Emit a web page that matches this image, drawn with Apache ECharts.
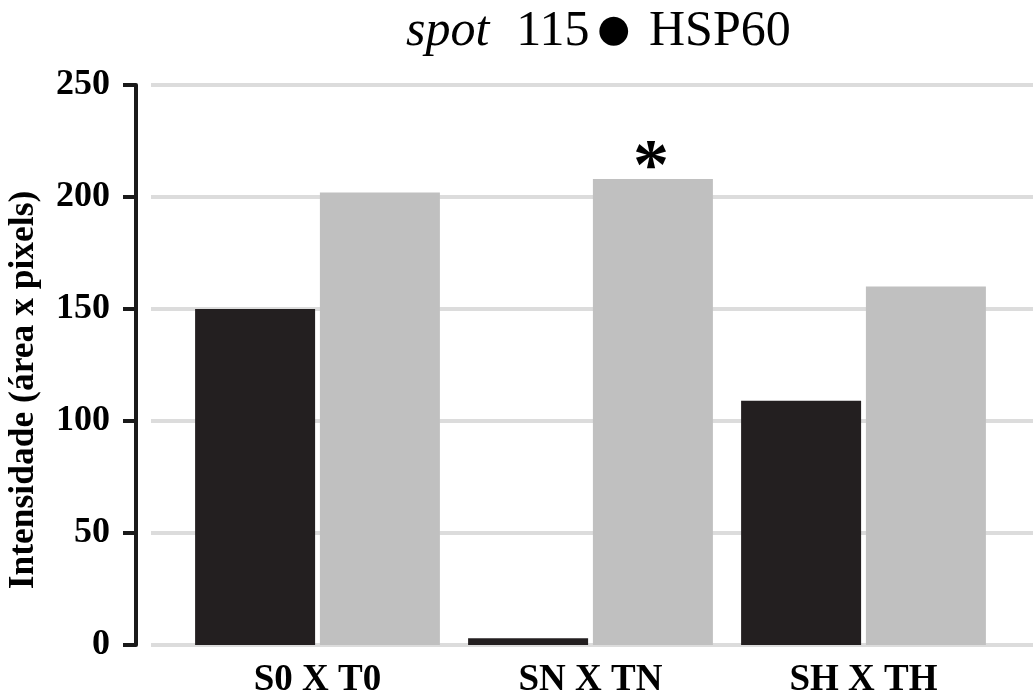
<!DOCTYPE html>
<html>
<head>
<meta charset="utf-8">
<title>spot 115 HSP60</title>
<script src="https://cdn.jsdelivr.net/npm/echarts@6/dist/echarts.min.js"></script>
<style>
	html, body { margin: 0; padding: 0; background: #fff; }
	#main { width: 1033px; height: 695px; }
</style>
</head>
<body>
<div id="main"></div>
<script>
	// dados
	var categorias = ['S0 X T0', 'SN X TN', 'SH X TH'];
	var serieEscura = [150, 3, 109];
	var serieClara = [202, 208, 160];
	var marcas = ['', '*', ''];   // asterisco de significância sobre a barra clara
	var yTicks = [0, 50, 100, 150, 200, 250];

	var serif = "'Liberation Serif', 'Times New Roman', serif";

	var dadosClaros = serieClara.map(function (v, i) {
		if (!marcas[i]) return v;
		return {
			value: v,
			label: {
				show: true,
				position: 'top',
				distance: -26,
				offset: [-2, 0],
				formatter: marcas[i],
				fontFamily: serif,
				fontWeight: 'bold',
				fontSize: 72,
				color: '#000'
			}
		};
	});

	var myChart = echarts.init(document.getElementById('main'));
	var option = {
		backgroundColor: '#fff',
		animation: false,
		title: {
			text: '{i|spot}{n|115}{b|●}{h|HSP60}',
			left: 401,
			top: -3,
			textStyle: {
				fontFamily: serif,
				fontWeight: 'normal',
				fontSize: 50,
				color: '#000',
				rich: {
					i: { fontFamily: serif, fontStyle: 'italic', fontSize: 50, lineHeight: 60, color: '#000' },
					n: { fontFamily: serif, fontSize: 50, lineHeight: 60, color: '#000', padding: [0, 0, 0, 27] },
					b: { fontFamily: serif, fontSize: 67, lineHeight: 60, color: '#000', padding: [0, 0, 0, 4] },
					h: { fontFamily: serif, fontSize: 50, lineHeight: 60, color: '#000', padding: [0, 0, 0, 15] }
				}
			}
		},
		grid: [
			{ left: 181, right: 33, top: 85, bottom: 50, outerBoundsMode: 'none' },   // barras
			{ left: 151, right: 0, top: 85, bottom: 50, outerBoundsMode: 'none' }     // linhas de grade
		],
		xAxis: [
			{
				type: 'category',
				gridIndex: 0,
				data: categorias,
				axisLine: { show: false },
				axisTick: { show: false },
				axisLabel: {
					margin: 17,
					fontFamily: serif,
					fontWeight: 'bold',
					fontSize: 37,
					color: '#000'
				}
			},
			{ type: 'value', gridIndex: 1, min: 0, max: 1, show: false }
		],
		yAxis: [
			{
				type: 'value',
				gridIndex: 0,
				min: yTicks[0],
				max: yTicks[yTicks.length - 1],
				interval: yTicks[1] - yTicks[0],
				offset: 45,
				name: 'Intensidade (área x pixels)',
				nameLocation: 'middle',
				nameGap: 94,
				nameTextStyle: {
					fontFamily: serif,
					fontWeight: 'bold',
					fontSize: 35.5,
					color: '#000',
					padding: [0, 50, 0, 0]
				},
				axisLine: { show: true, lineStyle: { color: '#1a1a1a', width: 4 } },
				axisTick: { show: true, length: 13, lineStyle: { color: '#1a1a1a', width: 4 } },
				axisLabel: {
					margin: 26,
					fontFamily: serif,
					fontWeight: 'bold',
					fontSize: 36,
					color: '#000'
				},
				splitLine: { show: false }
			},
			{
				type: 'value',
				gridIndex: 1,
				min: yTicks[0],
				max: yTicks[yTicks.length - 1],
				interval: yTicks[1] - yTicks[0],
				axisLine: { show: false },
				axisTick: { show: false },
				axisLabel: { show: false },
				splitLine: { show: true, lineStyle: { color: '#dcdcdc', width: 4 } }
			}
		],
		series: [
			{
				type: 'bar',
				xAxisIndex: 0,
				yAxisIndex: 0,
				data: serieEscura,
				barWidth: 120,
				barGap: '4%',
				itemStyle: { color: '#231f20' }
			},
			{
				type: 'bar',
				xAxisIndex: 0,
				yAxisIndex: 0,
				data: dadosClaros,
				barWidth: 120,
				barGap: '4%',
				itemStyle: { color: '#c0c0c0' }
			}
		]
	};
	myChart.setOption(option);
</script>
</body>
</html>
